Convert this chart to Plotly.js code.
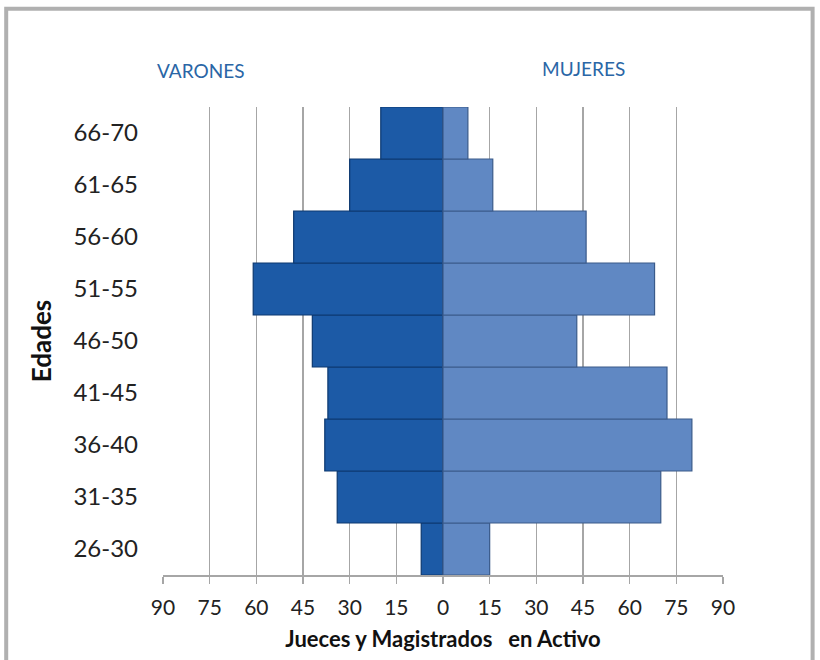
<!DOCTYPE html>
<html>
<head>
<meta charset="utf-8">
<script src="https://cdn.plot.ly/plotly-3.0.1.min.js"></script>
<style>html,body{margin:0;padding:0;background:#fff;}#chart{width:820px;height:660px;}</style>
</head>
<body>
<div id="chart"></div>
<script>
const ageGroups = ['26-30','31-35','36-40','41-45','46-50','51-55','56-60','61-65','66-70'];
const varones = [7, 34, 38, 37, 42, 61, 48, 30, 20];
const mujeres = [15, 70, 80, 72, 43, 68, 46, 16, 8];
const tickValues = [-90,-75,-60,-45,-30,-15,0,15,30,45,60,75,90];
const tickLabels = ['90','75','60','45','30','15','0','15','30','45','60','75','90'];

const font = 'Lato, "Open Sans", "DejaVu Sans", sans-serif';

const traces = [
  {
    type: 'bar', orientation: 'h', name: 'VARONES',
    y: ageGroups, x: varones.map(v => -v),
    marker: {color: '#1c5aa6', line: {color: '#0c3870', width: 1.2}},
    hoverinfo: 'skip'
  },
  {
    type: 'bar', orientation: 'h', name: 'MUJERES',
    y: ageGroups, x: mujeres,
    marker: {color: '#6088c3', line: {color: '#3a5a8a', width: 1.2}},
    hoverinfo: 'skip'
  }
];

const layout = {
  width: 820, height: 660,
  margin: {l: 163, r: 97, t: 107, b: 85},
  paper_bgcolor: '#ffffff', plot_bgcolor: '#ffffff',
  barmode: 'relative', bargap: 0.0,
  showlegend: false,
  font: {family: font, color: '#222222'},
  xaxis: {
    range: [-90, 90], tickvals: tickValues, ticktext: tickLabels,
    showgrid: true, gridcolor: '#a6a6a6', gridwidth: 1.5,
    zeroline: false, showline: true, linecolor: '#a6a6a6', linewidth: 1.5,
    ticks: 'outside', ticklen: 7, tickcolor: '#a6a6a6', tickwidth: 1.5,
    ticklabelstandoff: 6,
    tickfont: {size: 21, color: '#222222', family: font},
    title: {text: '<b>Jueces y Magistrados   en Activo</b>', font: {size: 22, color: '#111111', family: font}, standoff: 14},
    fixedrange: true
  },
  yaxis: {
    type: 'category', categoryorder: 'array', categoryarray: ageGroups,
    showgrid: false, zeroline: false, showline: false, ticks: '',
    tickfont: {size: 24, color: '#222222', family: font},
    ticklabelstandoff: 24,
    title: {text: '<b>Edades</b>', font: {size: 26, color: '#111111', family: font}, standoff: 14},
    fixedrange: true
  },
  annotations: [
    {text: 'VARONES', x: -78, y: 1.0, xref: 'x', yref: 'paper', yshift: 50, showarrow: false,
     font: {size: 19, color: '#2a66a6', family: font}},
    {text: 'MUJERES', x: 45, y: 1.0, xref: 'x', yref: 'paper', yshift: 52, showarrow: false,
     font: {size: 19, color: '#2a66a6', family: font}}
  ],
  shapes: [
    {type: 'rect', xref: 'paper', yref: 'paper', x0: -0.28, x1: 1.16, y0: -0.25, y1: 1.21,
     line: {color: '#b0b0b0', width: 4}, fillcolor: 'rgba(0,0,0,0)', layer: 'below'}
  ]
};

Plotly.newPlot('chart', traces, layout, {displayModeBar: false, staticPlot: true});
</script>
</body>
</html>
